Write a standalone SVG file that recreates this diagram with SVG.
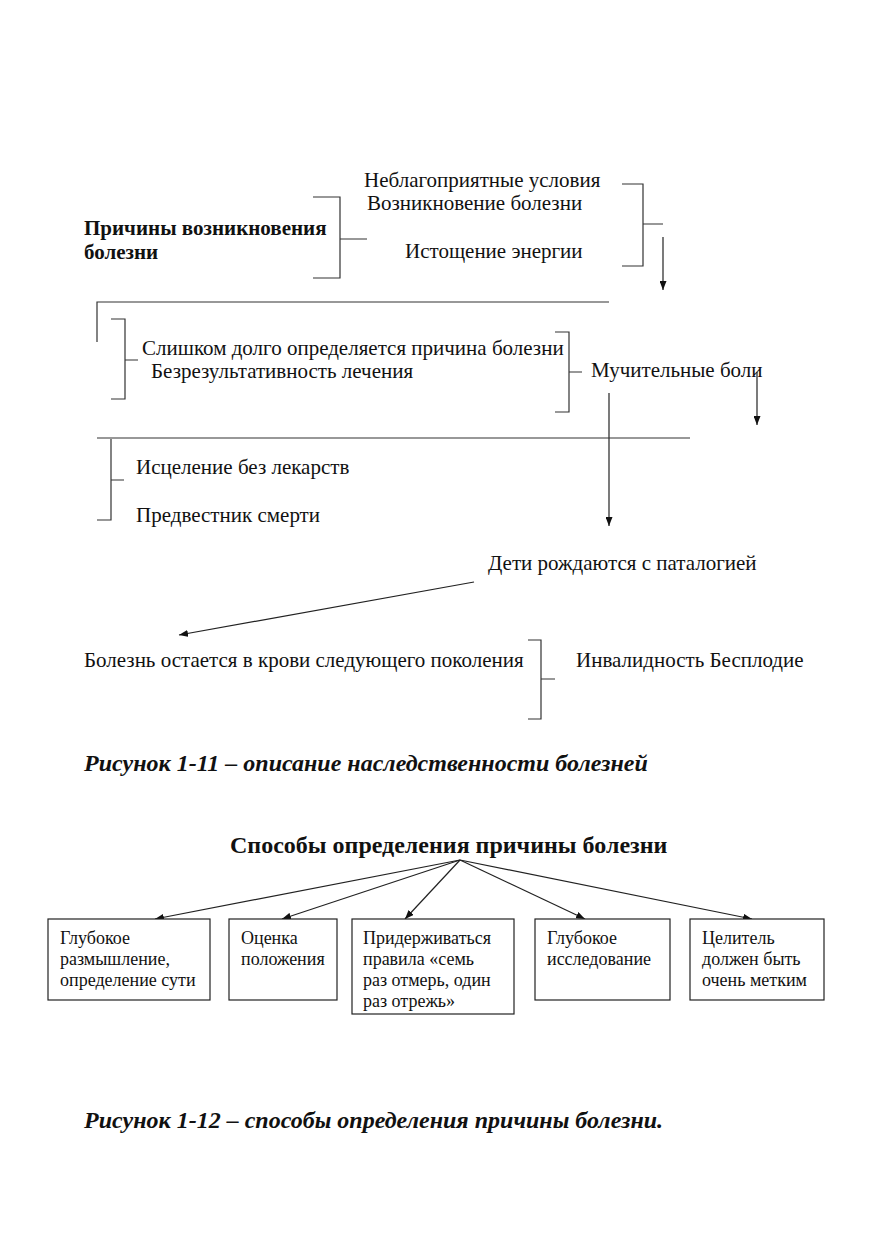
<svg xmlns="http://www.w3.org/2000/svg" width="887" height="1256" viewBox="0 0 887 1256">
<defs>
<marker id="ah" markerWidth="9" markerHeight="7" refX="9" refY="3.5" orient="auto" markerUnits="userSpaceOnUse">
<path d="M0,0 L9,3.5 L0,7 Z" fill="#111"/>
</marker>
<style>
text{font-family:"Liberation Serif","Times New Roman",serif;fill:#111}
.t{font-size:21px}
.b{font-size:21px;font-weight:bold}
.h{font-size:24px;font-weight:bold}
.cap{font-size:24px;font-weight:bold;font-style:italic}
.s{font-size:18px}
.ln{fill:none;stroke:#333;stroke-width:1.2}
.ar{fill:none;stroke:#222;stroke-width:1.2;marker-end:url(#ah)}
.box{fill:#fff;stroke:#222;stroke-width:1.2}
</style>
</defs>
<rect width="887" height="1256" fill="#fff"/>

<g id="connectors">
<path class="ln" d="M313,197 H340 V278 H313 M340,239 H367"/>
<path class="ln" d="M622,184 H643 V266 H622 M643,224 H663"/>
<path class="ar" d="M663,237 V290"/>
<path class="ln" d="M97,342 V302 H609"/>
<path class="ln" d="M111,319 H125 V399 H111 M125,360 H138"/>
<path class="ln" d="M555,332 H569 V412 H555 M569,372 H582"/>
<path class="ar" d="M609,393 V526"/>
<path class="ar" d="M757,372 V425"/>
<path class="ln" d="M97,438 H690"/>
<path class="ln" d="M111,439 V520 H97 M111,480 H124"/>
<path class="ar" d="M474,582 L179,635"/>
<path class="ln" d="M528,640 H541 V719 H528 M541,679 H555"/>
<path class="ar" d="M460,860 L155,919"/>
<path class="ar" d="M460,860 L282,919"/>
<path class="ar" d="M460,860 L405,919"/>
<path class="ar" d="M460,860 L585,919"/>
<path class="ar" d="M460,860 L752,919"/>
</g>

<g id="n-prichiny"><text class="b" x="84" y="235">Причины возникновения</text><text class="b" x="84" y="259">болезни</text></g>
<g id="n-neblag"><text class="t" x="364" y="187">Неблагоприятные условия</text></g>
<g id="n-vozn"><text class="t" x="367" y="210">Возникновение болезни</text></g>
<g id="n-istoshch"><text class="t" x="405" y="258">Истощение энергии</text></g>
<g id="n-slishkom"><text class="t" x="142" y="355">Слишком долго определяется причина болезни</text></g>
<g id="n-bezrez"><text class="t" x="151" y="378">Безрезультативность лечения</text></g>
<g id="n-muchit"><text class="t" x="591" y="377">Мучительные боли</text></g>
<g id="n-iscel"><text class="t" x="136" y="474">Исцеление без лекарств</text></g>
<g id="n-predv"><text class="t" x="136" y="522">Предвестник смерти</text></g>
<g id="n-deti"><text class="t" x="488" y="570">Дети рождаются с паталогией</text></g>
<g id="n-bolezn"><text class="t" x="84" y="667">Болезнь остается в крови следующего поколения</text></g>
<g id="n-invalid"><text class="t" x="576" y="667">Инвалидность Бесплодие</text></g>
<g id="cap1"><text class="cap" x="84" y="771">Рисунок 1-11 – описание наследственности болезней</text></g>

<g id="n-title"><text class="h" x="230" y="853">Способы определения причины болезни</text></g>
<g id="box1"><rect class="box" x="48" y="919" width="162" height="81"/><text class="s" x="60" y="944">Глубокое</text><text class="s" x="60" y="965">размышление,</text><text class="s" x="60" y="986">определение сути</text></g>
<g id="box2"><rect class="box" x="229" y="919" width="108" height="81"/><text class="s" x="241" y="944">Оценка</text><text class="s" x="241" y="965">положения</text></g>
<g id="box3"><rect class="box" x="352" y="919" width="162" height="95"/><text class="s" x="363" y="944">Придерживаться</text><text class="s" x="363" y="965">правила «семь</text><text class="s" x="363" y="986">раз отмерь, один</text><text class="s" x="363" y="1007">раз отрежь»</text></g>
<g id="box4"><rect class="box" x="535" y="919" width="135" height="81"/><text class="s" x="547" y="944">Глубокое</text><text class="s" x="547" y="965">исследование</text></g>
<g id="box5"><rect class="box" x="690" y="919" width="134" height="81"/><text class="s" x="702" y="944">Целитель</text><text class="s" x="702" y="965">должен быть</text><text class="s" x="702" y="986">очень метким</text></g>
<g id="cap2"><text class="cap" x="84" y="1128">Рисунок 1-12 – способы определения причины болезни.</text></g>
</svg>
